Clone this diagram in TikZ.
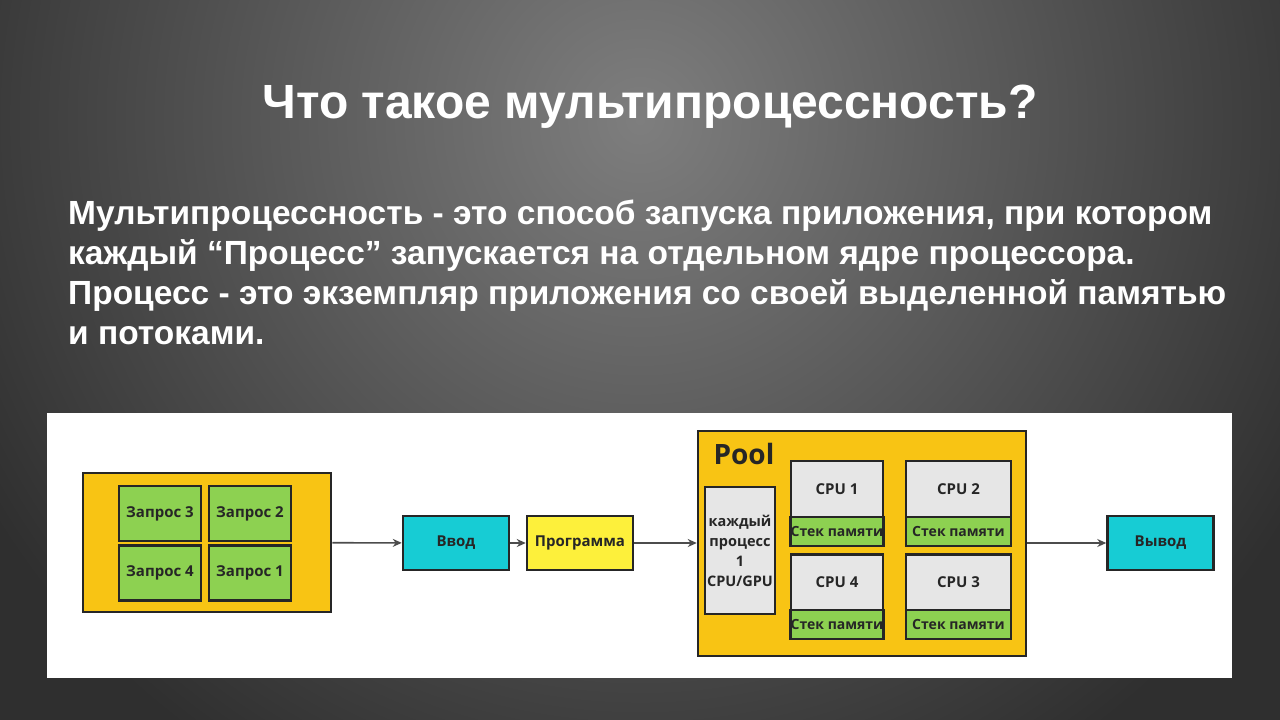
\documentclass[tikz,border=0pt]{standalone}
\usepackage{fontspec}
\setmainfont{Liberation Sans}
\newfontfamily\diafont{Open Sans}
\usetikzlibrary{arrows.meta,shadows}

\definecolor{poolyellow}{HTML}{F8C414}
\definecolor{reqgreen}{HTML}{8DD151}
\definecolor{iocyan}{HTML}{17CCD4}
\definecolor{progyellow}{HTML}{FDF03B}
\definecolor{cpugray}{HTML}{E6E6E6}
\definecolor{bgdark}{HTML}{2F2F2F}
\definecolor{bglight}{HTML}{7E7E7E}

\tikzset{
  box/.style={draw=black!85, line width=2.5pt, rectangle, inner sep=0pt,
    font=\diafont\bfseries\fontsize{15}{18}\selectfont, text=black!85},
  req/.style={box, fill=reqgreen, minimum width=82, minimum height=55},
  cpu/.style={box, fill=cpugray, minimum width=92, minimum height=56},
  stack/.style={box, fill=reqgreen, minimum width=92, minimum height=29,
    font=\diafont\bfseries\fontsize{14}{16}\selectfont},
  wide/.style={minimum width=105},
  io/.style={box, minimum width=106, minimum height=54},
  flow/.style={-{Stealth[length=9pt,width=8pt]}, line width=1.6pt, draw=black!70}
}

\begin{document}
\begin{tikzpicture}[x=1pt,y=-1pt]
  % background
  \fill[bgdark] (0,0) rectangle (1280,720);
  \begin{scope}
    \clip (0,0) rectangle (1280,720);
    \shade[inner color=bglight, outer color=bgdark] (640,120) circle (760);
  \end{scope}
  \useasboundingbox (0,0) rectangle (1280,720);

  % heading and text
  \node[text=white, font=\bfseries\fontsize{48}{54}\selectfont] (title) at (650,107)
    {Что такое мультипроцессность?};
  \node[text=white, anchor=north west, align=left, inner sep=0pt,
    font=\bfseries\fontsize{33.5}{40}\selectfont] (body) at (68,200)
    {Мультипроцессность - это способ запуска приложения, при котором\\
     каждый “Процесс” запускается на отдельном ядре процессора.\\
     Процесс - это экземпляр приложения со своей выделенной памятью\\
     и потоками.};

  % diagram panel
  \fill[white] (47,413) rectangle (1232,678);

  % requests
  \node[box, fill=poolyellow, minimum width=248, minimum height=139] (reqs) at (207,542.5) {};
  \node[req] (r3) at (160,513.5) {Запрос 3};
  \node[req] (r2) at (250,513.5) {Запрос 2};
  \node[req] (r4) at (160,573) {Запрос 4};
  \node[req] (r1) at (250,573) {Запрос 1};

  \node[io, fill=iocyan] (in) at (456,543) {Ввод};
  \node[io, fill=progyellow] (prog) at (580,543) {Программа};

  % pool
  \node[box, fill=poolyellow, minimum width=328, minimum height=225] (pool) at (862,543.5) {};
  \node[anchor=north west, font=\diafont\bfseries\fontsize{28}{30}\selectfont,
    text=black!85] (pooltxt) at (710,440) {Pool};
  \node[box, fill=cpugray, minimum width=70, minimum height=127, align=center,
    font=\diafont\bfseries\fontsize{14.5}{20}\selectfont] (each) at (740,550.5)
    {каждый\\процесс\\1\\CPU/GPU};
  \node[cpu] (c1) at (837,489) {CPU 1};
  \node[stack] (s1) at (837,531.5) {Стек памяти};
  \node[cpu, wide] (c2) at (958.5,489) {CPU 2};
  \node[stack, wide] (s2) at (958.5,531.5) {Стек памяти};
  \node[cpu] (c4) at (837,582.5) {CPU 4};
  \node[stack] (s4) at (837,624.5) {Стек памяти};
  \node[cpu, wide] (c3) at (958.5,582.5) {CPU 3};
  \node[stack, wide] (s3) at (958.5,624.5) {Стек памяти};

  \node[io, fill=iocyan] (out) at (1160.5,543) {Вывод};

  \draw[flow] (reqs) -- (in);
  \draw[flow] (in) -- (prog);
  \draw[flow] (prog) -- (prog -| pool.west);
  \draw[flow] (pool.east |- out) -- (out);
\end{tikzpicture}
\end{document}
